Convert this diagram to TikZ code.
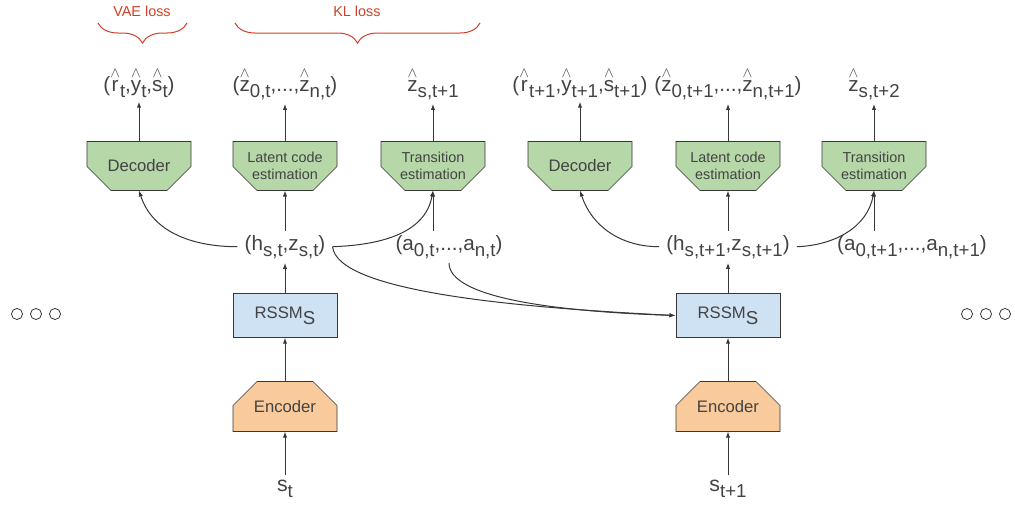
\documentclass[tikz,border=0pt]{standalone}
\usepackage{fontspec}
\setmainfont{Liberation Sans}
\usetikzlibrary{arrows.meta,calc,backgrounds,decorations.pathreplacing}

\definecolor{lossred}{RGB}{204,65,37}
\definecolor{txtgray}{RGB}{67,67,67}
\definecolor{linegray}{RGB}{55,55,55}
\definecolor{decgreen}{RGB}{182,215,168}
\definecolor{encorange}{RGB}{249,203,156}
\definecolor{rssmblue}{RGB}{207,226,243}

\newcommand{\lo}[1]{\raisebox{-4.5pt}{\fontsize{14}{14}\selectfont #1}}
\newcommand{\est}[1]{$\stackrel{\wedge}{\mbox{#1}}$}

\tikzset{every picture/.style={line width=0.75pt}}

\begin{document}
\begin{tikzpicture}[x=0.75pt,y=0.75pt,yscale=-1,xscale=1,
  lbl/.style={text=txtgray,font=\fontsize{15.5}{18}\selectfont,inner xsep=2pt,inner ysep=3pt,anchor=base},
  decbox/.style={minimum width=77.25pt,minimum height=36pt,inner sep=0pt,text=txtgray,align=center},
  encbox/.style={decbox,minimum height=36.75pt},
  rssmbox/.style={draw=linegray,fill=rssmblue,minimum width=78pt,minimum height=32.5pt,inner sep=0pt,
    text=txtgray,font=\fontsize{12.5}{15}\selectfont},
  bigtxt/.style={font=\fontsize{12.5}{15}\selectfont},
  smalltxt/.style={font=\fontsize{10.8}{12.5}\selectfont},
  arr/.style={draw=linegray,-{Latex[length=4.5pt,width=3.2pt]}},
  dot/.style={circle,draw=linegray,line width=0.6pt,minimum size=8.3pt,inner sep=0pt},
  lossbrace/.style={draw=lossred,decorate,decoration={brace,mirror,amplitude=15pt}},
  losstxt/.style={text=lossred,font=\fontsize{10.8}{12}\selectfont}]
\useasboundingbox (0,0) rectangle (1015,508);

%Loss braces
\draw[lossbrace] (98,23) -- (187,23);
\draw[lossbrace] (235,23) -- (480,23);
\node[losstxt] (vae) at (142,11) {VAE loss};
\node[losstxt] (kl) at (357,11) {KL loss};

%Decoders and estimators
\node[decbox,bigtxt] (dec1) at (139,166) {Decoder};
\node[decbox,smalltxt] (lat1) at (285,166) {Latent code\\estimation};
\node[decbox,smalltxt] (tra1) at (433,166) {Transition\\estimation};
\node[decbox,bigtxt] (dec2) at (580,166) {Decoder};
\node[decbox,smalltxt] (lat2) at (728,166) {Latent code\\estimation};
\node[decbox,smalltxt] (tra2) at (874,166) {Transition\\estimation};

%Outputs
\node[lbl] (out1) at (139,91) {(\est{r}\lo{t},\est{y}\lo{t},\est{s}\lo{t})};
\node[lbl] (out2) at (285,91) {(\est{z}\lo{0,t},...,\est{z}\lo{n,t})};
\node[lbl] (out3) at (433,91) {\est{z}\lo{s,t+1}};
\node[lbl] (out4) at (580,91) {(\est{r}\lo{t+1},\est{y}\lo{t+1},\est{s}\lo{t+1})};
\node[lbl] (out5) at (728,91) {(\est{z}\lo{0,t+1},...,\est{z}\lo{n,t+1})};
\node[lbl] (out6) at (874,91) {\est{z}\lo{s,t+2}};

%States
\node[lbl,inner xsep=5pt] (hz1) at (285,250) {(h\lo{s,t},z\lo{s,t})};
\node[lbl] (act1) at (449,250) {(a\lo{0,t},...,a\lo{n,t})};
\node[lbl,inner xsep=5pt] (hz2) at (728,250) {(h\lo{s,t+1},z\lo{s,t+1})};
\node[lbl] (act2) at (912,250) {(a\lo{0,t+1},...,a\lo{n,t+1})};

%RSSM and encoders
\node[rssmbox] (rssm1) at (285,315.5) {RSSM\lo{S}};
\node[rssmbox] (rssm2) at (728,315.5) {RSSM\lo{S}};
\node[encbox,bigtxt] (enc1) at (285,406.5) {Encoder};
\node[encbox,bigtxt] (enc2) at (728,406.5) {Encoder};
\node[lbl,font=\fontsize{16}{18}\selectfont] (st1) at (285,491) {s\lo{t}};
\node[lbl,font=\fontsize{16}{18}\selectfont] (st2) at (728,491) {s\lo{t+1}};

%Chamfered outlines behind the box texts
\begin{scope}[on background layer]
\foreach \n in {dec1,lat1,tra1,dec2,lat2,tra2}
  \draw[draw=linegray,fill=decgreen] (\n.north west) -- (\n.north east) -- ($(\n.south east)+(0,-24)$)
    -- ($(\n.south east)+(-24,0)$) -- ($(\n.south west)+(24,0)$) -- ($(\n.south west)+(0,-24)$) -- cycle;
\foreach \n in {enc1,enc2}
  \draw[draw=linegray,fill=encorange] (\n.south west) -- (\n.south east) -- ($(\n.north east)+(0,24)$)
    -- ($(\n.north east)+(-24,0)$) -- ($(\n.north west)+(24,0)$) -- ($(\n.north west)+(0,24)$) -- cycle;
\end{scope}

%Dots
\foreach \i/\x in {1/17,2/36,3/55} \node[dot] (ldot\i) at (\x,314) {};
\foreach \i/\x in {1/967,2/986,3/1005} \node[dot] (rdot\i) at (\x,314) {};

%Arrows
\foreach \a/\b in {dec1/out1,lat1/out2,tra1/out3,dec2/out4,lat2/out5,tra2/out6,
  hz1/lat1,hz2/lat2,rssm1/hz1,rssm2/hz2,enc1/rssm1,enc2/rssm2,st1/enc1,st2/enc2}
  \draw[arr] (\a) -- (\b);
\draw[arr] (tra1.south |- act1.north) -- (tra1.south);
\draw[arr] (tra2.south |- act2.north) -- (tra2.south);
\draw[arr] (hz1.west) to[out=180,in=72] (dec1.south);
\draw[arr] (hz1.east) to[out=-2,in=100] (tra1.south);
\draw[arr] (hz2.west) to[out=180,in=72] (dec2.south);
\draw[arr] (hz2.east) to[out=-2,in=100] (tra2.south);
\draw[arr] (hz1.east) .. controls +(5,45) and +(-160,-8) .. (rssm2.west);
\draw[arr] (act1.south) .. controls +(0,35) and +(-120,-4) .. (rssm2.west);

\end{tikzpicture}
\end{document}
